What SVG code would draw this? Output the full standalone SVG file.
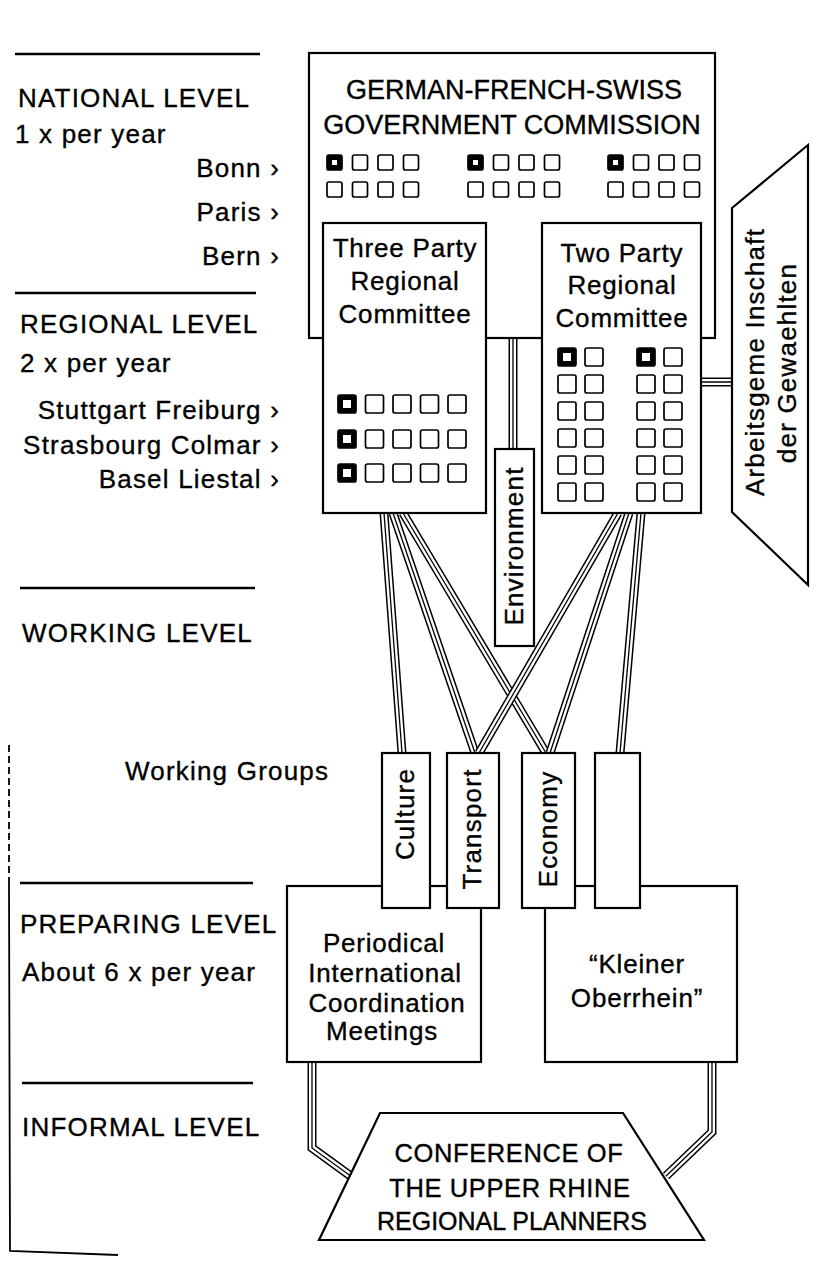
<svg xmlns="http://www.w3.org/2000/svg" xmlns:xlink="http://www.w3.org/1999/xlink" width="814" height="1264" viewBox="0 0 814 1264">
<style>
.box{fill:#fff;stroke:#000;stroke-width:2.2}
.sq{fill:#fff;stroke:#000;stroke-width:1.7}
.sqb{fill:#fff;stroke:#000;stroke-width:5}
.t{font-family:"Liberation Sans",Arial,sans-serif;fill:#000;stroke:#000;stroke-width:0.35}
.lbl{font-size:26px;letter-spacing:1.2px}
.bx{font-size:26px;letter-spacing:0.8px;text-anchor:middle}
.ttl{font-size:27px;text-anchor:middle}
.rot{font-size:26px;letter-spacing:1.2px;text-anchor:middle}
.rule{stroke:#000;stroke-width:2.5;fill:none}
.thin{stroke:#000;stroke-width:1.8;fill:none}
.c1{fill:none;stroke:#000;stroke-width:9}
.c2{fill:none;stroke:#fff;stroke-width:6}
.c3{fill:none;stroke:#000;stroke-width:1.3}
</style>
<defs>
<rect id="s15" class="sq" width="15" height="15" rx="2"/>
<rect id="b15" class="sqb" x="2.5" y="2.5" width="10" height="10" rx="1"/>
<rect id="s18" class="sq" width="18" height="18" rx="2"/>
<rect id="b18" class="sqb" x="2.5" y="2.5" width="13" height="13" rx="1"/>
<path id="k1" d="M384,513 L402,753"/>
<path id="k2" d="M393,513 L475,753"/>
<path id="k3" d="M403,513 L546,753"/>
<path id="k4" d="M618,513 L479,753"/>
<path id="k5" d="M629,513 L550,753"/>
<path id="k6" d="M641,513 L620,753"/>
<path id="k7" d="M513,338 L513,450"/>
<path id="k8" d="M700,382 L733,382"/>
<path id="k9" d="M312,1062 L312,1148 L352,1177"/>
<path id="k10" d="M712,1062 L712,1132 L666,1176"/>
</defs>
<rect width="814" height="1264" fill="#fff"/>

<g id="levels">
<line class="rule" x1="15" y1="54" x2="260" y2="54"/>
<text class="t lbl" x="18" y="107">NATIONAL LEVEL</text>
<text class="t lbl" x="15" y="143">1 x per year</text>
<text class="t lbl" x="280" y="177" text-anchor="end">Bonn ›</text>
<text class="t lbl" x="280" y="221" text-anchor="end">Paris ›</text>
<text class="t lbl" x="280" y="265" text-anchor="end">Bern ›</text>
<line class="rule" x1="15" y1="293" x2="256" y2="293"/>
<text class="t lbl" x="20" y="333" letter-spacing="1">REGIONAL LEVEL</text>
<text class="t lbl" x="20" y="372">2 x per year</text>
<text class="t lbl" x="280" y="419" text-anchor="end">Stuttgart Freiburg ›</text>
<text class="t lbl" x="280" y="454" text-anchor="end">Strasbourg Colmar ›</text>
<text class="t lbl" x="280" y="488" text-anchor="end">Basel Liestal ›</text>
<line class="rule" x1="20" y1="588" x2="255" y2="588"/>
<text class="t lbl" x="22" y="642" letter-spacing="1">WORKING LEVEL</text>
<text class="t lbl" x="125" y="780" letter-spacing="1.5">Working Groups</text>
<line class="rule" x1="20" y1="883" x2="253" y2="883"/>
<text class="t lbl" x="20" y="933" letter-spacing="0.5">PREPARING LEVEL</text>
<text class="t lbl" x="22" y="981" letter-spacing="0.9">About 6 x per year</text>
<line class="rule" x1="22" y1="1083" x2="253" y2="1083"/>
<text class="t lbl" x="22" y="1136" letter-spacing="1.3">INFORMAL LEVEL</text>
<path class="thin" d="M9,745 L9,880" stroke-dasharray="7 4" stroke-width="1.2"/>
<path class="thin" d="M9,880 L10,1251 L118,1255"/>
</g>

<g id="connectors">
<use href="#k1" class="c1"/><use href="#k1" class="c2"/><use href="#k1" class="c3"/>
<use href="#k2" class="c1"/><use href="#k2" class="c2"/><use href="#k2" class="c3"/>
<use href="#k3" class="c1"/><use href="#k3" class="c2"/><use href="#k3" class="c3"/>
<use href="#k4" class="c1"/><use href="#k4" class="c2"/><use href="#k4" class="c3"/>
<use href="#k5" class="c1"/><use href="#k5" class="c2"/><use href="#k5" class="c3"/>
<use href="#k6" class="c1"/><use href="#k6" class="c2"/><use href="#k6" class="c3"/>
<use href="#k7" class="c1"/><use href="#k7" class="c2"/><use href="#k7" class="c3"/>
<use href="#k8" class="c1"/><use href="#k8" class="c2"/><use href="#k8" class="c3"/>
<use href="#k9" class="c1"/><use href="#k9" class="c2"/><use href="#k9" class="c3"/>
<use href="#k10" class="c1"/><use href="#k10" class="c2"/><use href="#k10" class="c3"/>
</g>

<g id="commission">
<rect class="box" x="309" y="53" width="406" height="285"/>
<text class="t ttl" x="514" y="99">GERMAN-FRENCH-SWISS</text>
<text class="t ttl" x="512" y="134">GOVERNMENT COMMISSION</text>
<use href="#s15" x="327" y="155"/><use href="#b15" x="327" y="155"/>
<use href="#s15" x="352.5" y="155"/><use href="#s15" x="378" y="155"/><use href="#s15" x="403.5" y="155"/>
<use href="#s15" x="327" y="182"/><use href="#s15" x="352.5" y="182"/><use href="#s15" x="378" y="182"/><use href="#s15" x="403.5" y="182"/>
<use href="#s15" x="468" y="155"/><use href="#b15" x="468" y="155"/>
<use href="#s15" x="493.5" y="155"/><use href="#s15" x="519" y="155"/><use href="#s15" x="544.5" y="155"/>
<use href="#s15" x="468" y="182"/><use href="#s15" x="493.5" y="182"/><use href="#s15" x="519" y="182"/><use href="#s15" x="544.5" y="182"/>
<use href="#s15" x="608" y="155"/><use href="#b15" x="608" y="155"/>
<use href="#s15" x="633.5" y="155"/><use href="#s15" x="659" y="155"/><use href="#s15" x="684.5" y="155"/>
<use href="#s15" x="608" y="182"/><use href="#s15" x="633.5" y="182"/><use href="#s15" x="659" y="182"/><use href="#s15" x="684.5" y="182"/>
</g>

<g id="three-party">
<rect class="box" x="323" y="223" width="163" height="290"/>
<text class="t bx" x="405" y="257">Three Party</text>
<text class="t bx" x="405" y="290">Regional</text>
<text class="t bx" x="405" y="323">Committee</text>
<use href="#s18" x="338" y="395"/><use href="#b18" x="338" y="395"/>
<use href="#s18" x="365.5" y="395"/><use href="#s18" x="393" y="395"/><use href="#s18" x="420.5" y="395"/><use href="#s18" x="448" y="395"/>
<use href="#s18" x="338" y="430"/><use href="#b18" x="338" y="430"/>
<use href="#s18" x="365.5" y="430"/><use href="#s18" x="393" y="430"/><use href="#s18" x="420.5" y="430"/><use href="#s18" x="448" y="430"/>
<use href="#s18" x="338" y="464"/><use href="#b18" x="338" y="464"/>
<use href="#s18" x="365.5" y="464"/><use href="#s18" x="393" y="464"/><use href="#s18" x="420.5" y="464"/><use href="#s18" x="448" y="464"/>
</g>

<g id="two-party">
<rect class="box" x="542" y="223" width="159" height="290"/>
<text class="t bx" x="622" y="262">Two Party</text>
<text class="t bx" x="622" y="294">Regional</text>
<text class="t bx" x="622" y="327">Committee</text>
<use href="#s18" x="558" y="348"/><use href="#b18" x="558" y="348"/><use href="#s18" x="585" y="348"/>
<use href="#s18" x="637" y="348"/><use href="#b18" x="637" y="348"/><use href="#s18" x="664" y="348"/>
<use href="#s18" x="558" y="375"/><use href="#s18" x="585" y="375"/><use href="#s18" x="637" y="375"/><use href="#s18" x="664" y="375"/>
<use href="#s18" x="558" y="402"/><use href="#s18" x="585" y="402"/><use href="#s18" x="637" y="402"/><use href="#s18" x="664" y="402"/>
<use href="#s18" x="558" y="429"/><use href="#s18" x="585" y="429"/><use href="#s18" x="637" y="429"/><use href="#s18" x="664" y="429"/>
<use href="#s18" x="558" y="456"/><use href="#s18" x="585" y="456"/><use href="#s18" x="637" y="456"/><use href="#s18" x="664" y="456"/>
<use href="#s18" x="558" y="483"/><use href="#s18" x="585" y="483"/><use href="#s18" x="637" y="483"/><use href="#s18" x="664" y="483"/>
</g>

<g id="arbeitsgemeinschaft">
<path class="box" d="M732,208 L808,145 L808,585 L732,512 Z"/>
<text class="t rot" transform="translate(764,362) rotate(-90)" letter-spacing="1">Arbeitsgeme Inschaft</text>
<text class="t rot" transform="translate(796,363) rotate(-90)" letter-spacing="0.8">der Gewaehlten</text>
</g>

<g id="environment">
<rect class="box" x="495" y="449" width="39" height="197"/>
<text class="t rot" transform="translate(523,546) rotate(-90)">Environment</text>
</g>

<g id="periodical">
<rect class="box" x="287" y="886" width="194" height="176"/>
<text class="t bx" x="384" y="952">Periodical</text>
<text class="t bx" x="385" y="982">International</text>
<text class="t bx" x="387" y="1012">Coordination</text>
<text class="t bx" x="382" y="1040">Meetings</text>
</g>

<g id="kleiner">
<rect class="box" x="545" y="886" width="192" height="176"/>
<text class="t bx" x="637" y="973">“Kleiner</text>
<text class="t bx" x="637" y="1007">Oberrhein”</text>
</g>

<g id="culture">
<rect class="box" x="382" y="753" width="48" height="155"/>
<text class="t rot" transform="translate(414,814) rotate(-90)">Culture</text>
</g>
<g id="transport">
<rect class="box" x="447" y="753" width="52" height="155"/>
<text class="t rot" transform="translate(481,829) rotate(-90)" letter-spacing="0.8">Transport</text>
</g>
<g id="economy">
<rect class="box" x="522" y="753" width="53" height="155"/>
<text class="t rot" transform="translate(557,829) rotate(-90)">Economy</text>
</g>
<g id="blank-group">
<rect class="box" x="595" y="753" width="45" height="155"/>
</g>

<g id="conference">
<path class="box" d="M380,1113 L623,1113 L704,1240 L319,1240 Z"/>
<text class="t" x="509" y="1162" font-size="25.5" text-anchor="middle" letter-spacing="0.6">CONFERENCE OF</text>
<text class="t" x="510" y="1197" font-size="25.5" text-anchor="middle" letter-spacing="0.6">THE UPPER RHINE</text>
<text class="t" x="512" y="1230" font-size="25" text-anchor="middle">REGIONAL PLANNERS</text>
</g>
</svg>
